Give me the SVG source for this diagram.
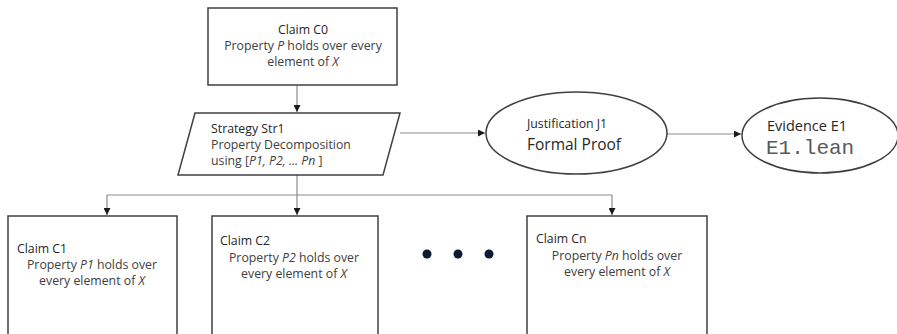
<svg xmlns="http://www.w3.org/2000/svg" width="897" height="334" viewBox="0 0 897 334">
<defs>
<style>
.box{fill:#fff;stroke:#404040;stroke-width:1.5}
.conn{fill:none;stroke:#8c8c8c;stroke-width:1.2}
text{font-family:"Open Sans","Liberation Sans",sans-serif;font-size:12.3px;fill:#404040}
.t{fill:#262626}
.c{text-anchor:middle}
.big{font-size:15.5px}
.ev{font-size:14.5px}
.mono{font-family:"Liberation Mono","Courier New",monospace;font-size:21px;fill:#595959}
</style>
<marker id="ah" viewBox="0 0 10 10" refX="10" refY="5" markerWidth="7" markerHeight="7" orient="auto" markerUnits="userSpaceOnUse">
<path d="M0,0 L10,5 L0,10 z" fill="#1a1a1a"/>
</marker>
</defs>
<rect width="897" height="334" fill="#fff"/>
<g id="connectors">
<path class="conn" d="M297,85 V112" marker-end="url(#ah)"/>
<path class="conn" d="M400,133 H485" marker-end="url(#ah)"/>
<path class="conn" d="M667,134 H741" marker-end="url(#ah)"/>
<path class="conn" d="M297,175 V195"/>
<path class="conn" d="M107,195 H612"/>
<path class="conn" d="M107,195 V215" marker-end="url(#ah)"/>
<path class="conn" d="M297,195 V215" marker-end="url(#ah)"/>
<path class="conn" d="M612,195 V215" marker-end="url(#ah)"/>
</g>
<g id="C0">
<rect class="box" x="208" y="8" width="189" height="77"/>
<text class="c t" x="303" y="34">Claim C0</text>
<text class="c" x="303" y="50">Property <tspan font-style="italic">P</tspan> holds over every</text>
<text class="c" x="303" y="66">element of <tspan font-style="italic">X</tspan></text>
</g>
<g id="Str1">
<polygon class="box" points="195,113 400,113 383,175 178,175"/>
<text class="t" x="211" y="133">Strategy Str1</text>
<text x="211" y="149">Property Decomposition</text>
<text x="211" y="165">using [<tspan font-style="italic">P1, P2, ... Pn</tspan> ]</text>
</g>
<g id="J1">
<ellipse class="box" cx="576.5" cy="133" rx="90.5" ry="41"/>
<text class="t" x="527" y="128">Justification J1</text>
<text class="t big" x="527" y="150">Formal Proof</text>
</g>
<g id="E1">
<ellipse class="box" cx="820" cy="135.5" rx="78" ry="37.5"/>
<text class="t ev" x="767" y="131">Evidence E1</text>
<text class="mono" x="766" y="154">E1.lean</text>
</g>
<g id="C1">
<rect class="box" x="8" y="216" width="169" height="130"/>
<text class="t" x="17" y="253">Claim C1</text>
<text class="c" x="92" y="269">Property <tspan font-style="italic">P1</tspan> holds over</text>
<text class="c" x="92" y="285">every element of <tspan font-style="italic">X</tspan></text>
</g>
<g id="C2">
<rect class="box" x="212" y="216" width="166" height="130"/>
<text class="t" x="220" y="245">Claim C2</text>
<text class="c" x="294" y="262">Property <tspan font-style="italic">P2</tspan> holds over</text>
<text class="c" x="294" y="278">every element of <tspan font-style="italic">X</tspan></text>
</g>
<g id="dots" fill="#0d1a33">
<circle cx="427" cy="254" r="4.5"/>
<circle cx="458" cy="254" r="4.5"/>
<circle cx="489" cy="254" r="4.5"/>
</g>
<g id="Cn">
<rect class="box" x="527" y="216" width="180" height="130"/>
<text class="t" x="536" y="243">Claim Cn</text>
<text class="c" x="617" y="260">Property <tspan font-style="italic">Pn</tspan> holds over</text>
<text class="c" x="617" y="276">every element of <tspan font-style="italic">X</tspan></text>
</g>
</svg>
